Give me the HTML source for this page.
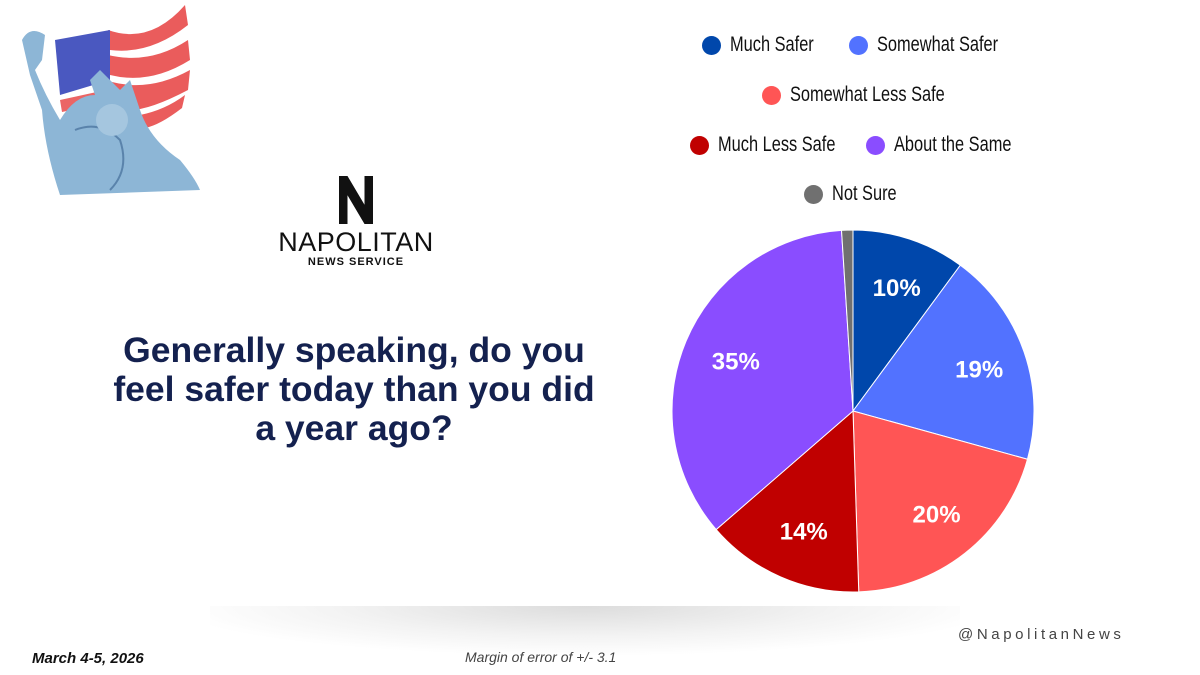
<!DOCTYPE html>
<html><head><meta charset="utf-8"><style>
body{margin:0;width:1200px;height:675px;background:#fff;position:relative;overflow:hidden;font-family:"Liberation Sans",sans-serif}
.abs{position:absolute}
.leg{font-size:21px;color:#111;display:flex;align-items:center;white-space:nowrap}
.leg span.t{display:inline-block;transform:scaleX(0.78);transform-origin:left center}
.dot{width:19px;height:19px;border-radius:50%;margin-right:9px;display:inline-block}
</style></head><body>
<div class="abs" style="left:210px;top:606px;width:750px;height:50px;background:radial-gradient(ellipse 55% 100% at 50% 0%,#dcdcdc,#f3f3f3 60%,#fff 100%)"></div>
<svg class="abs" style="left:0;top:0" width="210" height="210">
<g>
<path d="M108 30 Q150 45 185 5 L188 25 Q150 55 110 50 Z M108 55 Q150 65 188 40 L190 60 Q150 85 110 75Z M112 82 Q150 92 190 70 L188 90 Q150 110 130 110 L115 100Z M140 115 Q165 110 185 95 L182 108 Q160 125 145 128Z" fill="#e84a4a" opacity="0.9"/>
<path d="M55 40 L110 30 L110 80 L60 95 Z" fill="#4a58c0"/>
<path d="M60 100 L115 88 L120 100 L62 112Z M65 118 L120 108 L122 118 L70 128Z" fill="#e84a4a" opacity="0.85"/>
</g>
<path d="M22 40 Q30 25 45 35 L42 60 L35 70 Q45 95 60 120 Q75 95 95 95 L90 80 L100 70 L120 90 L130 80 L140 110 Q150 140 180 160 Q195 178 200 190 L60 195 Q45 150 42 110 L30 75Z" fill="#8db6d6"/>
<path d="M75 130 Q100 120 120 140 Q130 170 110 190" stroke="#5a83ab" stroke-width="2" fill="none"/>
<circle cx="112" cy="120" r="16" fill="#a5c6df"/>
</svg>
<div class="abs" style="left:276px;top:176px;width:160px;text-align:center">
<div style="margin:0 auto;width:34px;height:48px;background:#111;clip-path:polygon(0 0,25% 0,75% 60%,75% 0,100% 0,100% 100%,75% 100%,25% 40%,25% 100%,0 100%)"></div>
<div style="font-size:27px;letter-spacing:0.5px;color:#111;margin-top:4px;line-height:28px">NAPOLITAN</div>
<div style="font-size:11px;font-weight:bold;letter-spacing:1px;color:#111">NEWS SERVICE</div>
</div>
<div class="abs" style="left:104px;top:331px;width:500px;text-align:center;font-size:35.5px;font-weight:bold;color:#14214f;line-height:39px">Generally speaking, do you feel safer today than you did a year ago?</div>
<div class="abs leg" style="left:702px;top:33px"><span class="dot" style="background:#0047ab"></span><span class="t">Much Safer</span></div>
<div class="abs leg" style="left:849px;top:33px"><span class="dot" style="background:#5272ff"></span><span class="t">Somewhat Safer</span></div>
<div class="abs leg" style="left:762px;top:83px"><span class="dot" style="background:#ff5555"></span><span class="t">Somewhat Less Safe</span></div>
<div class="abs leg" style="left:690px;top:133px"><span class="dot" style="background:#c00000"></span><span class="t">Much Less Safe</span></div>
<div class="abs leg" style="left:866px;top:133px"><span class="dot" style="background:#8a4dff"></span><span class="t">About the Same</span></div>
<div class="abs leg" style="left:804px;top:182px"><span class="dot" style="background:#707070"></span><span class="t">Not Sure</span></div>
<svg class="abs" style="left:0;top:0" width="1200" height="675" id="pie"></svg>
<div class="abs" style="left:32px;top:650px;font-size:15px;font-weight:bold;font-style:italic;color:#111">March 4-5, 2026</div>
<div class="abs" style="left:465px;top:649px;font-size:14px;font-style:italic;color:#444">Margin of error of +/- 3.1</div>
<div class="abs" style="left:958px;top:626px;font-size:15px;letter-spacing:3.6px;color:#444">@NapolitanNews</div>
<script>
const categories=["Much Safer","Somewhat Safer","Somewhat Less Safe","Much Less Safe","About the Same","Not Sure"];
const values=[10,19,20,14,35,1];
const labels=["10%","19%","20%","14%","35%",""];
const colors=["#0047ab","#5272ff","#ff5555","#c00000","#8a4dff","#707070"];
const svg=document.getElementById('pie');
const NS="http://www.w3.org/2000/svg";
const cx=853,cy=411,r=181;
const total=values.reduce((a,b)=>a+b,0);
function pt(a,rr){return [cx+rr*Math.sin(a),cy-rr*Math.cos(a)];}
let acc=0;
values.forEach((v,i)=>{
 const a0=acc/total*2*Math.PI;acc+=v;const a1=acc/total*2*Math.PI;
 const p0=pt(a0,r),p1=pt(a1,r);
 const path=document.createElementNS(NS,'path');
 path.setAttribute('d',`M${cx} ${cy} L${p0[0]} ${p0[1]} A${r} ${r} 0 ${a1-a0>Math.PI?1:0} 1 ${p1[0]} ${p1[1]}Z`);
 path.setAttribute('fill',colors[i]);path.setAttribute('stroke','#fff');path.setAttribute('stroke-width','1');
 
 
 svg.appendChild(path);
 if(labels[i]){
  const m=pt((a0+a1)/2,r*0.72);
  const t=document.createElementNS(NS,'text');
  t.setAttribute('x',m[0]+3);t.setAttribute('y',m[1]+9);t.setAttribute('text-anchor','middle');
  t.setAttribute('font-family','Liberation Sans, sans-serif');t.setAttribute('font-size','24');t.setAttribute('font-weight','bold');t.setAttribute('fill','#fff');
  t.textContent=labels[i];
  
  
  svg.appendChild(t);
 }
});
</script>
</body></html>
